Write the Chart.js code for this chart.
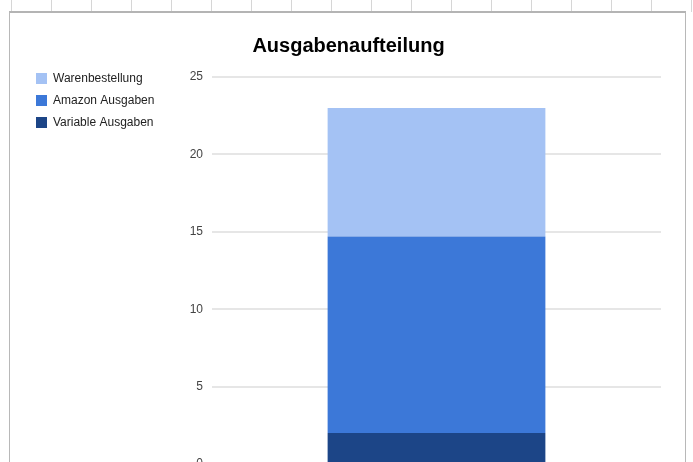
<!DOCTYPE html>
<html>
<head>
<meta charset="utf-8">
<script src="https://cdn.jsdelivr.net/npm/chart.js@4"></script>
<style>
  body { margin: 0; width: 693px; height: 462px; overflow: hidden; background: #fff; }
  #cells {
    position: absolute; left: 0; top: 0; width: 693px; height: 12px;
    background-image: linear-gradient(to right, #d6d6d6 1px, transparent 1px);
    background-size: 40px 12px; background-position: 11px 0;
  }
  #frame {
    position: absolute; left: 9px; top: 11px; width: 677px; height: 520px;
    border: 1px solid #b8b8b8; border-top: 2px solid #b4b4b4; box-sizing: border-box; background: #fff;
  }
  #wrap { position: absolute; left: 0; top: 0; width: 667px; height: 490px; }
</style>
</head>
<body>
<div id="cells"></div>
<div id="frame"><div id="wrap"><canvas id="chart"></canvas></div></div>
<script>
// chart data
const categories = ['Ausgaben'];
const seriesLabels = ['Variable Ausgaben', 'Amazon Ausgaben', 'Warenbestellung'];
const variableAusgaben = [2];
const amazonAusgaben = [12.7];
const warenbestellung = [8.3];
const yTicks = [0, 5, 10, 15, 20, 25];

const colors = ['#1c4587', '#3c78d8', '#a4c2f4'];
const FONT = 'Liberation Sans, Arial, sans-serif';
const PAD_LEFT = 16;
const AREA_LEFT = 202;

const ctx = document.getElementById('chart').getContext('2d');
const chart = new Chart(ctx, {
  type: 'bar',
  data: {
    labels: categories,
    datasets: [
      { label: seriesLabels[0], data: variableAusgaben, backgroundColor: colors[0] },
      { label: seriesLabels[1], data: amazonAusgaben, backgroundColor: colors[1] },
      { label: seriesLabels[2], data: warenbestellung, backgroundColor: colors[2] }
    ]
  },
  options: {
    responsive: true,
    maintainAspectRatio: false,
    animation: false,
    layout: { padding: { left: PAD_LEFT, right: 16, top: 0, bottom: 39 } },
    datasets: { bar: { categoryPercentage: 1, barPercentage: 0.485, borderWidth: 0 } },
    plugins: {
      title: {
        display: true,
        // leading en space nudges the title onto the frame centre
        text: '\u2002Ausgabenaufteilung',
        color: '#000',
        font: { family: FONT, size: 20, weight: 'bold' },
        padding: { top: 21, bottom: 19 }
      },
      legend: {
        position: 'left',
        align: 'start',
        reverse: true,
        title: { display: true, text: '', padding: { top: 35, bottom: 0 } },
        labels: {
          boxWidth: 11,
          boxHeight: 11,
          padding: 10,
          color: '#222',
          font: { family: FONT, size: 12 }
        }
      },
      tooltip: { enabled: false }
    },
    scales: {
      x: { stacked: true, display: false },
      y: {
        stacked: true,
        min: yTicks[0],
        max: yTicks[yTicks.length - 1],
        afterBuildTicks: s => { s.ticks = yTicks.map(v => ({ value: v })); },
        afterFit: s => { s.width = AREA_LEFT - PAD_LEFT - s.chart.legend.width; },
        border: { display: false },
        grid: { color: '#e6e6e6', lineWidth: 2, drawTicks: false },
        ticks: {
          padding: 9,
          color: '#444',
          font: { family: FONT, size: 12 }
        }
      }
    }
  }
});
</script>
</body>
</html>
